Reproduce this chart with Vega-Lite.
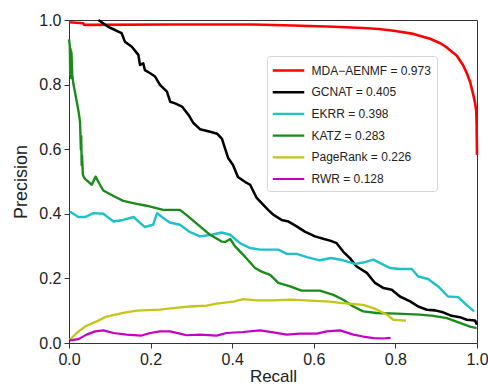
{
  "$schema": "https://vega.github.io/schema/vega-lite/v6.json",
  "width": 408,
  "height": 323,
  "autosize": {"type": "none"},
  "padding": {"left": 69, "top": 20, "right": 11, "bottom": 43},
  "background": "white",
  "config": {
    "view": {"stroke": "#333", "strokeWidth": 1},
    "font": "Liberation Sans",
    "axis": {
      "grid": false, "domainColor": "#333", "tickColor": "#333", "tickSize": 5,
      "labelFont": "Liberation Sans", "labelFontSize": 16, "labelColor": "#222",
      "titleFont": "Liberation Sans", "titleFontSize": 18, "titleFontWeight": "normal", "titleColor": "#222"
    },
    "legend": {"labelFont": "Liberation Sans"}
  },
  "data": {"values": [
    {"m": "MDA−AENMF = 0.973", "r": 0, "p": 0.993},
    {"m": "MDA−AENMF = 0.973", "r": 0.035, "p": 0.99},
    {"m": "MDA−AENMF = 0.973", "r": 0.037, "p": 0.985},
    {"m": "MDA−AENMF = 0.973", "r": 0.25, "p": 0.986},
    {"m": "MDA−AENMF = 0.973", "r": 0.45, "p": 0.986},
    {"m": "MDA−AENMF = 0.973", "r": 0.55, "p": 0.983},
    {"m": "MDA−AENMF = 0.973", "r": 0.65, "p": 0.979},
    {"m": "MDA−AENMF = 0.973", "r": 0.72, "p": 0.975},
    {"m": "MDA−AENMF = 0.973", "r": 0.76, "p": 0.972},
    {"m": "MDA−AENMF = 0.973", "r": 0.8, "p": 0.966},
    {"m": "MDA−AENMF = 0.973", "r": 0.844, "p": 0.957},
    {"m": "MDA−AENMF = 0.973", "r": 0.885, "p": 0.942},
    {"m": "MDA−AENMF = 0.973", "r": 0.91, "p": 0.928},
    {"m": "MDA−AENMF = 0.973", "r": 0.926, "p": 0.915},
    {"m": "MDA−AENMF = 0.973", "r": 0.94, "p": 0.9},
    {"m": "MDA−AENMF = 0.973", "r": 0.95, "p": 0.89},
    {"m": "MDA−AENMF = 0.973", "r": 0.966, "p": 0.86},
    {"m": "MDA−AENMF = 0.973", "r": 0.975, "p": 0.835},
    {"m": "MDA−AENMF = 0.973", "r": 0.983, "p": 0.809},
    {"m": "MDA−AENMF = 0.973", "r": 0.991, "p": 0.768},
    {"m": "MDA−AENMF = 0.973", "r": 0.995, "p": 0.745},
    {"m": "MDA−AENMF = 0.973", "r": 0.998, "p": 0.72},
    {"m": "MDA−AENMF = 0.973", "r": 0.999, "p": 0.68},
    {"m": "MDA−AENMF = 0.973", "r": 1.0, "p": 0.582},

    {"m": "GCNAT = 0.405", "r": 0.072, "p": 1.0},
    {"m": "GCNAT = 0.405", "r": 0.096, "p": 0.979},
    {"m": "GCNAT = 0.405", "r": 0.113, "p": 0.969},
    {"m": "GCNAT = 0.405", "r": 0.129, "p": 0.959},
    {"m": "GCNAT = 0.405", "r": 0.137, "p": 0.933},
    {"m": "GCNAT = 0.405", "r": 0.154, "p": 0.917},
    {"m": "GCNAT = 0.405", "r": 0.17, "p": 0.892},
    {"m": "GCNAT = 0.405", "r": 0.174, "p": 0.861},
    {"m": "GCNAT = 0.405", "r": 0.182, "p": 0.866},
    {"m": "GCNAT = 0.405", "r": 0.186, "p": 0.845},
    {"m": "GCNAT = 0.405", "r": 0.199, "p": 0.835},
    {"m": "GCNAT = 0.405", "r": 0.211, "p": 0.825},
    {"m": "GCNAT = 0.405", "r": 0.223, "p": 0.799},
    {"m": "GCNAT = 0.405", "r": 0.24, "p": 0.778},
    {"m": "GCNAT = 0.405", "r": 0.248, "p": 0.747},
    {"m": "GCNAT = 0.405", "r": 0.26, "p": 0.742},
    {"m": "GCNAT = 0.405", "r": 0.277, "p": 0.732},
    {"m": "GCNAT = 0.405", "r": 0.293, "p": 0.706},
    {"m": "GCNAT = 0.405", "r": 0.305, "p": 0.681},
    {"m": "GCNAT = 0.405", "r": 0.321, "p": 0.662},
    {"m": "GCNAT = 0.405", "r": 0.346, "p": 0.654},
    {"m": "GCNAT = 0.405", "r": 0.363, "p": 0.648},
    {"m": "GCNAT = 0.405", "r": 0.375, "p": 0.632},
    {"m": "GCNAT = 0.405", "r": 0.382, "p": 0.604},
    {"m": "GCNAT = 0.405", "r": 0.39, "p": 0.573},
    {"m": "GCNAT = 0.405", "r": 0.402, "p": 0.551},
    {"m": "GCNAT = 0.405", "r": 0.414, "p": 0.514},
    {"m": "GCNAT = 0.405", "r": 0.431, "p": 0.499},
    {"m": "GCNAT = 0.405", "r": 0.444, "p": 0.49},
    {"m": "GCNAT = 0.405", "r": 0.46, "p": 0.449},
    {"m": "GCNAT = 0.405", "r": 0.488, "p": 0.412},
    {"m": "GCNAT = 0.405", "r": 0.501, "p": 0.397},
    {"m": "GCNAT = 0.405", "r": 0.521, "p": 0.381},
    {"m": "GCNAT = 0.405", "r": 0.538, "p": 0.376},
    {"m": "GCNAT = 0.405", "r": 0.558, "p": 0.361},
    {"m": "GCNAT = 0.405", "r": 0.578, "p": 0.345},
    {"m": "GCNAT = 0.405", "r": 0.603, "p": 0.33},
    {"m": "GCNAT = 0.405", "r": 0.625, "p": 0.322},
    {"m": "GCNAT = 0.405", "r": 0.64, "p": 0.317},
    {"m": "GCNAT = 0.405", "r": 0.656, "p": 0.309},
    {"m": "GCNAT = 0.405", "r": 0.672, "p": 0.283},
    {"m": "GCNAT = 0.405", "r": 0.689, "p": 0.262},
    {"m": "GCNAT = 0.405", "r": 0.705, "p": 0.237},
    {"m": "GCNAT = 0.405", "r": 0.73, "p": 0.217},
    {"m": "GCNAT = 0.405", "r": 0.75, "p": 0.186},
    {"m": "GCNAT = 0.405", "r": 0.771, "p": 0.17},
    {"m": "GCNAT = 0.405", "r": 0.791, "p": 0.165},
    {"m": "GCNAT = 0.405", "r": 0.811, "p": 0.144},
    {"m": "GCNAT = 0.405", "r": 0.836, "p": 0.129},
    {"m": "GCNAT = 0.405", "r": 0.856, "p": 0.113},
    {"m": "GCNAT = 0.405", "r": 0.877, "p": 0.103},
    {"m": "GCNAT = 0.405", "r": 0.897, "p": 0.101},
    {"m": "GCNAT = 0.405", "r": 0.917, "p": 0.095},
    {"m": "GCNAT = 0.405", "r": 0.938, "p": 0.084},
    {"m": "GCNAT = 0.405", "r": 0.958, "p": 0.08},
    {"m": "GCNAT = 0.405", "r": 0.975, "p": 0.072},
    {"m": "GCNAT = 0.405", "r": 0.995, "p": 0.07},
    {"m": "GCNAT = 0.405", "r": 1.0, "p": 0.057},

    {"m": "EKRR = 0.398", "r": 0.002, "p": 0.407},
    {"m": "EKRR = 0.398", "r": 0.023, "p": 0.39},
    {"m": "EKRR = 0.398", "r": 0.039, "p": 0.39},
    {"m": "EKRR = 0.398", "r": 0.06, "p": 0.402},
    {"m": "EKRR = 0.398", "r": 0.084, "p": 0.4},
    {"m": "EKRR = 0.398", "r": 0.109, "p": 0.376},
    {"m": "EKRR = 0.398", "r": 0.133, "p": 0.381},
    {"m": "EKRR = 0.398", "r": 0.158, "p": 0.39},
    {"m": "EKRR = 0.398", "r": 0.186, "p": 0.359},
    {"m": "EKRR = 0.398", "r": 0.206, "p": 0.366},
    {"m": "EKRR = 0.398", "r": 0.216, "p": 0.402},
    {"m": "EKRR = 0.398", "r": 0.231, "p": 0.387},
    {"m": "EKRR = 0.398", "r": 0.247, "p": 0.373},
    {"m": "EKRR = 0.398", "r": 0.272, "p": 0.366},
    {"m": "EKRR = 0.398", "r": 0.297, "p": 0.343},
    {"m": "EKRR = 0.398", "r": 0.321, "p": 0.33},
    {"m": "EKRR = 0.398", "r": 0.35, "p": 0.335},
    {"m": "EKRR = 0.398", "r": 0.374, "p": 0.342},
    {"m": "EKRR = 0.398", "r": 0.395, "p": 0.335},
    {"m": "EKRR = 0.398", "r": 0.419, "p": 0.309},
    {"m": "EKRR = 0.398", "r": 0.444, "p": 0.294},
    {"m": "EKRR = 0.398", "r": 0.468, "p": 0.289},
    {"m": "EKRR = 0.398", "r": 0.513, "p": 0.289},
    {"m": "EKRR = 0.398", "r": 0.534, "p": 0.276},
    {"m": "EKRR = 0.398", "r": 0.558, "p": 0.276},
    {"m": "EKRR = 0.398", "r": 0.583, "p": 0.266},
    {"m": "EKRR = 0.398", "r": 0.615, "p": 0.256},
    {"m": "EKRR = 0.398", "r": 0.642, "p": 0.263},
    {"m": "EKRR = 0.398", "r": 0.672, "p": 0.256},
    {"m": "EKRR = 0.398", "r": 0.701, "p": 0.245},
    {"m": "EKRR = 0.398", "r": 0.721, "p": 0.249},
    {"m": "EKRR = 0.398", "r": 0.746, "p": 0.258},
    {"m": "EKRR = 0.398", "r": 0.787, "p": 0.232},
    {"m": "EKRR = 0.398", "r": 0.811, "p": 0.229},
    {"m": "EKRR = 0.398", "r": 0.84, "p": 0.229},
    {"m": "EKRR = 0.398", "r": 0.856, "p": 0.206},
    {"m": "EKRR = 0.398", "r": 0.88, "p": 0.198},
    {"m": "EKRR = 0.398", "r": 0.905, "p": 0.175},
    {"m": "EKRR = 0.398", "r": 0.929, "p": 0.144},
    {"m": "EKRR = 0.398", "r": 0.954, "p": 0.142},
    {"m": "EKRR = 0.398", "r": 0.974, "p": 0.118},
    {"m": "EKRR = 0.398", "r": 0.993, "p": 0.098},

    {"m": "KATZ = 0.283", "r": 0.0, "p": 0.94},
    {"m": "KATZ = 0.283", "r": 0.002, "p": 0.92},
    {"m": "KATZ = 0.283", "r": 0.003, "p": 0.83},
    {"m": "KATZ = 0.283", "r": 0.004, "p": 0.91},
    {"m": "KATZ = 0.283", "r": 0.005, "p": 0.82},
    {"m": "KATZ = 0.283", "r": 0.006, "p": 0.9},
    {"m": "KATZ = 0.283", "r": 0.008, "p": 0.83},
    {"m": "KATZ = 0.283", "r": 0.011, "p": 0.8},
    {"m": "KATZ = 0.283", "r": 0.015, "p": 0.775},
    {"m": "KATZ = 0.283", "r": 0.023, "p": 0.72},
    {"m": "KATZ = 0.283", "r": 0.027, "p": 0.685},
    {"m": "KATZ = 0.283", "r": 0.029, "p": 0.6},
    {"m": "KATZ = 0.283", "r": 0.03, "p": 0.64},
    {"m": "KATZ = 0.283", "r": 0.031, "p": 0.55},
    {"m": "KATZ = 0.283", "r": 0.032, "p": 0.58},
    {"m": "KATZ = 0.283", "r": 0.034, "p": 0.52},
    {"m": "KATZ = 0.283", "r": 0.039, "p": 0.508},
    {"m": "KATZ = 0.283", "r": 0.056, "p": 0.49},
    {"m": "KATZ = 0.283", "r": 0.065, "p": 0.515},
    {"m": "KATZ = 0.283", "r": 0.076, "p": 0.49},
    {"m": "KATZ = 0.283", "r": 0.084, "p": 0.472},
    {"m": "KATZ = 0.283", "r": 0.109, "p": 0.455},
    {"m": "KATZ = 0.283", "r": 0.133, "p": 0.44},
    {"m": "KATZ = 0.283", "r": 0.166, "p": 0.431},
    {"m": "KATZ = 0.283", "r": 0.19, "p": 0.425},
    {"m": "KATZ = 0.283", "r": 0.231, "p": 0.412},
    {"m": "KATZ = 0.283", "r": 0.272, "p": 0.412},
    {"m": "KATZ = 0.283", "r": 0.292, "p": 0.392},
    {"m": "KATZ = 0.283", "r": 0.321, "p": 0.361},
    {"m": "KATZ = 0.283", "r": 0.346, "p": 0.335},
    {"m": "KATZ = 0.283", "r": 0.374, "p": 0.314},
    {"m": "KATZ = 0.283", "r": 0.383, "p": 0.313},
    {"m": "KATZ = 0.283", "r": 0.395, "p": 0.322},
    {"m": "KATZ = 0.283", "r": 0.407, "p": 0.299},
    {"m": "KATZ = 0.283", "r": 0.427, "p": 0.273},
    {"m": "KATZ = 0.283", "r": 0.456, "p": 0.232},
    {"m": "KATZ = 0.283", "r": 0.472, "p": 0.221},
    {"m": "KATZ = 0.283", "r": 0.493, "p": 0.211},
    {"m": "KATZ = 0.283", "r": 0.513, "p": 0.186},
    {"m": "KATZ = 0.283", "r": 0.542, "p": 0.175},
    {"m": "KATZ = 0.283", "r": 0.57, "p": 0.162},
    {"m": "KATZ = 0.283", "r": 0.615, "p": 0.162},
    {"m": "KATZ = 0.283", "r": 0.648, "p": 0.149},
    {"m": "KATZ = 0.283", "r": 0.672, "p": 0.134},
    {"m": "KATZ = 0.283", "r": 0.697, "p": 0.113},
    {"m": "KATZ = 0.283", "r": 0.721, "p": 0.098},
    {"m": "KATZ = 0.283", "r": 0.754, "p": 0.093},
    {"m": "KATZ = 0.283", "r": 0.803, "p": 0.091},
    {"m": "KATZ = 0.283", "r": 0.86, "p": 0.088},
    {"m": "KATZ = 0.283", "r": 0.893, "p": 0.084},
    {"m": "KATZ = 0.283", "r": 0.926, "p": 0.077},
    {"m": "KATZ = 0.283", "r": 0.958, "p": 0.062},
    {"m": "KATZ = 0.283", "r": 0.983, "p": 0.051},
    {"m": "KATZ = 0.283", "r": 0.999, "p": 0.046},

    {"m": "PageRank = 0.226", "r": 0.002, "p": 0.01},
    {"m": "PageRank = 0.226", "r": 0.019, "p": 0.031},
    {"m": "PageRank = 0.226", "r": 0.039, "p": 0.051},
    {"m": "PageRank = 0.226", "r": 0.068, "p": 0.067},
    {"m": "PageRank = 0.226", "r": 0.092, "p": 0.082},
    {"m": "PageRank = 0.226", "r": 0.133, "p": 0.093},
    {"m": "PageRank = 0.226", "r": 0.166, "p": 0.1},
    {"m": "PageRank = 0.226", "r": 0.223, "p": 0.103},
    {"m": "PageRank = 0.226", "r": 0.272, "p": 0.11},
    {"m": "PageRank = 0.226", "r": 0.297, "p": 0.113},
    {"m": "PageRank = 0.226", "r": 0.337, "p": 0.116},
    {"m": "PageRank = 0.226", "r": 0.362, "p": 0.122},
    {"m": "PageRank = 0.226", "r": 0.403, "p": 0.128},
    {"m": "PageRank = 0.226", "r": 0.427, "p": 0.136},
    {"m": "PageRank = 0.226", "r": 0.46, "p": 0.132},
    {"m": "PageRank = 0.226", "r": 0.501, "p": 0.132},
    {"m": "PageRank = 0.226", "r": 0.542, "p": 0.134},
    {"m": "PageRank = 0.226", "r": 0.591, "p": 0.131},
    {"m": "PageRank = 0.226", "r": 0.64, "p": 0.128},
    {"m": "PageRank = 0.226", "r": 0.664, "p": 0.124},
    {"m": "PageRank = 0.226", "r": 0.721, "p": 0.118},
    {"m": "PageRank = 0.226", "r": 0.746, "p": 0.108},
    {"m": "PageRank = 0.226", "r": 0.779, "p": 0.088},
    {"m": "PageRank = 0.226", "r": 0.795, "p": 0.072},
    {"m": "PageRank = 0.226", "r": 0.826, "p": 0.069},

    {"m": "RWR = 0.128", "r": 0.002, "p": 0.008},
    {"m": "RWR = 0.128", "r": 0.023, "p": 0.012},
    {"m": "RWR = 0.128", "r": 0.043, "p": 0.026},
    {"m": "RWR = 0.128", "r": 0.064, "p": 0.036},
    {"m": "RWR = 0.128", "r": 0.084, "p": 0.039},
    {"m": "RWR = 0.128", "r": 0.109, "p": 0.031},
    {"m": "RWR = 0.128", "r": 0.141, "p": 0.026},
    {"m": "RWR = 0.128", "r": 0.178, "p": 0.023},
    {"m": "RWR = 0.128", "r": 0.199, "p": 0.031},
    {"m": "RWR = 0.128", "r": 0.223, "p": 0.036},
    {"m": "RWR = 0.128", "r": 0.247, "p": 0.036},
    {"m": "RWR = 0.128", "r": 0.272, "p": 0.029},
    {"m": "RWR = 0.128", "r": 0.288, "p": 0.024},
    {"m": "RWR = 0.128", "r": 0.321, "p": 0.026},
    {"m": "RWR = 0.128", "r": 0.362, "p": 0.023},
    {"m": "RWR = 0.128", "r": 0.386, "p": 0.031},
    {"m": "RWR = 0.128", "r": 0.427, "p": 0.034},
    {"m": "RWR = 0.128", "r": 0.468, "p": 0.039},
    {"m": "RWR = 0.128", "r": 0.501, "p": 0.033},
    {"m": "RWR = 0.128", "r": 0.534, "p": 0.026},
    {"m": "RWR = 0.128", "r": 0.566, "p": 0.029},
    {"m": "RWR = 0.128", "r": 0.607, "p": 0.029},
    {"m": "RWR = 0.128", "r": 0.632, "p": 0.036},
    {"m": "RWR = 0.128", "r": 0.664, "p": 0.039},
    {"m": "RWR = 0.128", "r": 0.68, "p": 0.033},
    {"m": "RWR = 0.128", "r": 0.697, "p": 0.026},
    {"m": "RWR = 0.128", "r": 0.721, "p": 0.02},
    {"m": "RWR = 0.128", "r": 0.746, "p": 0.015},
    {"m": "RWR = 0.128", "r": 0.77, "p": 0.014},
    {"m": "RWR = 0.128", "r": 0.788, "p": 0.016}
  ]},
  "mark": {"type": "line", "strokeJoin": "round", "strokeCap": "butt"},
  "encoding": {
    "x": {"field": "r", "type": "quantitative", "title": "Recall",
      "scale": {"domain": [0, 1], "nice": false},
      "axis": {"values": [0, 0.2, 0.4, 0.6, 0.8, 1.0], "format": ".1f", "labelPadding": 3, "titlePadding": 1, "titleFontSize": 17, "labelFlush": false}},
    "y": {"field": "p", "type": "quantitative", "title": "Precision",
      "scale": {"domain": [0, 1], "nice": false},
      "axis": {"values": [0, 0.2, 0.4, 0.6, 0.8, 1.0], "format": ".1f", "labelPadding": 3, "titlePadding": 8, "labelFlush": false}},
    "color": {"field": "m", "type": "nominal",
      "scale": {
        "domain": ["MDA−AENMF = 0.973", "GCNAT = 0.405", "EKRR = 0.398", "KATZ = 0.283", "PageRank = 0.226", "RWR = 0.128"],
        "range": ["#ff0000", "#000000", "#1fc0c8", "#1a8a1a", "#c4c41a", "#c400c4"]},
      "legend": {
        "title": null, "orient": "none", "legendX": 198, "legendY": 36,
        "symbolType": "M-2.1,0H2.1", "symbolSize": 225, "symbolStrokeWidth": 2, "symbolOffset": 7,
        "labelFontSize": 12, "labelColor": "#222", "labelOffset": 14,
        "rowPadding": 6.7, "padding": 5.5,
        "strokeColor": "#d5d5d5", "fillColor": "white", "cornerRadius": 3}},
    "strokeWidth": {"field": "m", "type": "nominal",
      "scale": {
        "domain": ["MDA−AENMF = 0.973", "GCNAT = 0.405", "EKRR = 0.398", "KATZ = 0.283", "PageRank = 0.226", "RWR = 0.128"],
        "range": [2.6, 2.2, 1.8, 1.8, 1.8, 1.8]},
      "legend": null}
  }
}
